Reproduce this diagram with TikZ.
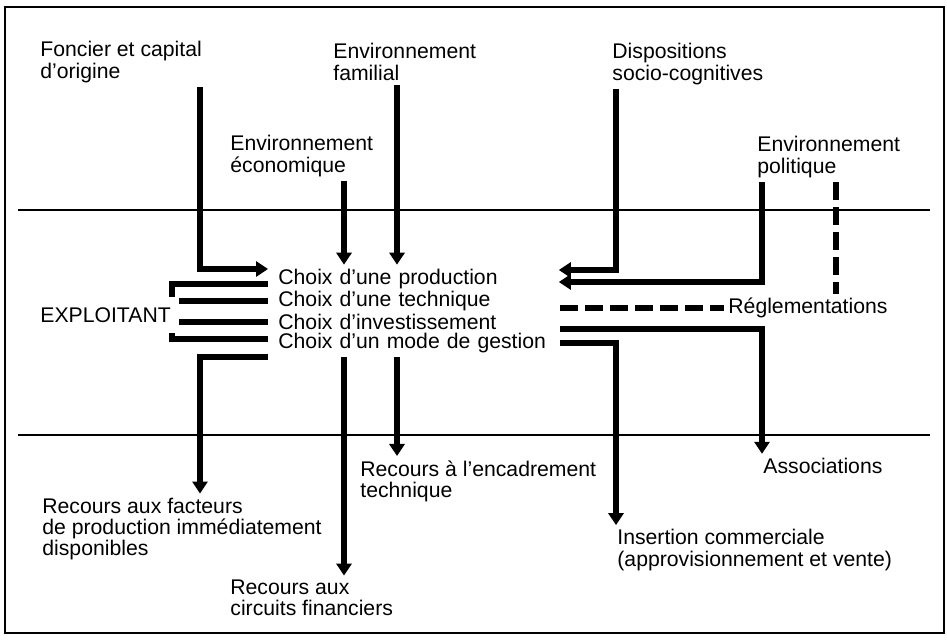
\documentclass[tikz,border=0pt]{standalone}
\usepackage{fontspec}
\setmainfont{Liberation Sans}
\usetikzlibrary{arrows.meta}

\begin{document}
\begin{tikzpicture}[x=0.5pt,y=-0.5pt,
  lab/.style={anchor=west,align=left,inner sep=2pt,font=\fontsize{10.6}{10.6}\selectfont},
  choix/.style={lab,inner xsep=5pt,text width=135pt},
  thk/.style={line width=2.8pt},
  arr/.style={thk,-{Triangle[length=6pt,width=7.5pt]}},
  dsh/.style={thk,dash pattern=on 9pt off 3.5pt},
  rule/.style={line width=0.85pt}]
\useasboundingbox (0,0) rectangle (947,641);
\draw[rule] (5,7) rectangle (944,633);
\draw[rule] (18,210) -- (930,210);
\draw[rule] (18,435) -- (930,435);

\node[lab] (fonc) at (36,62) {Foncier et capital\\d’origine};
\node[lab] (famil) at (329,62) {Environnement\\familial};
\node[lab] (econ) at (226,156) {Environnement\\économique};
\node[lab] (dispo) at (608,64) {Dispositions\\socio-cognitives};
\node[lab] (polit) at (753,157) {Environnement\\politique};

\node[lab,inner xsep=4pt,inner ysep=5pt] (expl) at (32,315) {EXPLOITANT};
\node[choix] (prod) at (268,279) {Choix d’une production};
\node[choix] (tech) at (268,301) {Choix d’une technique};
\node[choix] (inv) at (268,322) {Choix d’investissement};
\node[choix] (gest) at (268,343) {Choix d’un mode de gestion};
\node[lab] (regl) at (724,308) {Réglementations};

\node[lab] (fact) at (38,529) {Recours aux facteurs\\de production immédiatement\\disponibles};
\node[lab] (circ) at (226,598) {Recours aux\\circuits financiers};
\node[lab] (encad) at (356,481) {Recours à l’encadrement\\technique};
\node[lab] (assoc) at (759,466) {Associations};
\node[lab] (insert) at (613,550) {Insertion commerciale\\(approvisionnement et vente)};

\coordinate (cA) at (200,0);
\coordinate (cB) at (344,0);
\coordinate (cC) at (397,0);
\coordinate (cD) at (616,0);
\coordinate (cE) at (762,0);
\coordinate (cF) at (836,0);
\coordinate (cL) at (172,0);
\coordinate (cR) at (560,0);

\draw[arr] (cA |- fonc.south) |- ([yshift=5pt]prod.west);
\draw[arr] (cC |- famil.south) -- (cC |- prod.north);
\draw[arr] (cB |- econ.south) -- (cB |- prod.north);
\draw[arr] (cD |- dispo.south) |- ([yshift=4.5pt]prod.east);
\draw[arr] (cE |- polit.south) |- ([yshift=-1.5pt]prod.east);
\draw[dsh] (cF |- polit.south) -- (cF |- regl.north);
\draw[dsh] (cR |- regl.west) -- (regl.west);

\draw[thk] (cL |- expl.north) |- ([yshift=-2.5pt]prod.west);
\draw[thk] (expl.east |- tech.west) -- (tech.west);
\draw[thk] (expl.east |- inv.west) -- (inv.west);
\draw[thk] (cL |- expl.south) |- ([yshift=2pt]gest.west);

\draw[arr] (gest.south west) -| (cA |- fact.north);
\draw[arr] (cB |- gest.south) -- (cB |- circ.north);
\draw[arr] (cC |- gest.south) -- (cC |- encad.north);
\draw[arr] (cR |- gest.north) -| (cE |- assoc.north);
\draw[arr] (cR |- gest.east) -| (cD |- insert.north);
\end{tikzpicture}
\end{document}
